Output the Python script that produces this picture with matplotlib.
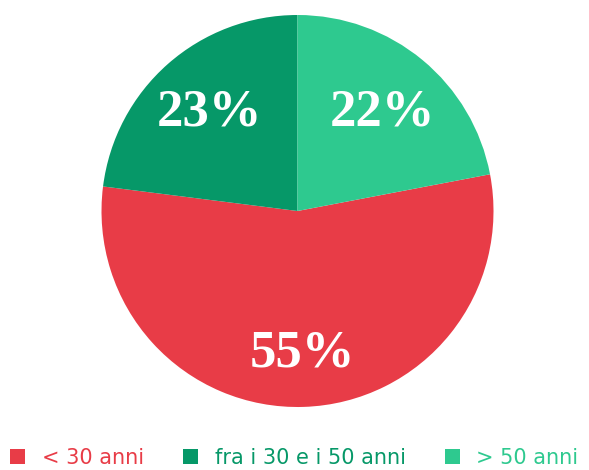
import matplotlib
matplotlib.use("Agg")
import matplotlib.pyplot as plt
from matplotlib.patches import Patch

labels = ["< 30 anni", "fra i 30 e i 50 anni", "> 50 anni"]
values = [55, 23, 22]
colors = ["#E83C47", "#069868", "#2EC98F"]

fig = plt.figure(figsize=(5.89, 4.70), dpi=100)
W, H = 589, 470
cx, cy, r = 297.5, 211, 196
ax = fig.add_axes([(cx - r) / W, (H - cy - r) / H, 2 * r / W, 2 * r / H])

start = 90 - values[2] / sum(values) * 360
wedges, texts = ax.pie(values, colors=colors, startangle=start, counterclock=False,
                       radius=1.0, wedgeprops=dict(linewidth=0))
ax.set_xlim(-1, 1)
ax.set_ylim(-1, 1)
ax.set_aspect("equal")
ax.axis("off")

# percentage labels
positions = [(0.025, -0.725), (-0.449, 0.505), (0.434, 0.505)]
for v, (x, y) in zip(values, positions):
    ax.text(x, y, f"{v}%", ha="center", va="center", color="white",
            fontsize=38, fontweight="bold", family="Liberation Serif")

handles = [Patch(facecolor=c, edgecolor="none") for c in colors]
leg = fig.legend(handles, labels, loc="center", bbox_to_anchor=(0.5, 12 / H), ncol=3,
                 frameon=False, labelcolor=colors,
                 prop=dict(family="DejaVu Sans", size=15),
                 handlelength=0.7, handleheight=0.7, handletextpad=0.8,
                 columnspacing=1.9, borderpad=0, borderaxespad=0)

fig.savefig("out.png", dpi=100)
